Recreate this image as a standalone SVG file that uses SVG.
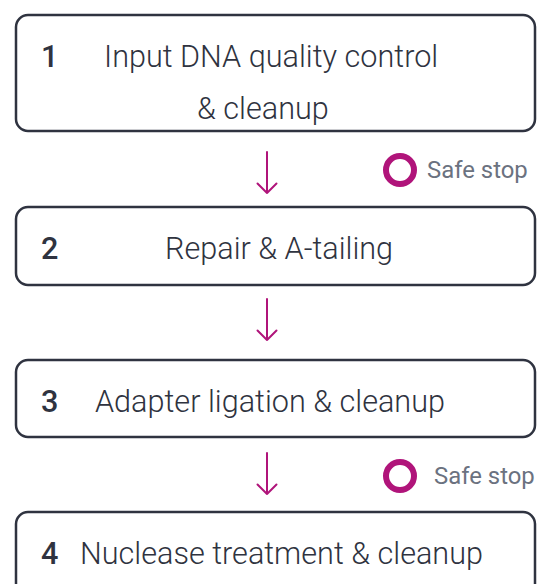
<svg xmlns="http://www.w3.org/2000/svg" width="538" height="584" viewBox="0 0 538 584">
<style>
.box{fill:#fff;stroke:#2f3340;stroke-width:2.5}
.num{font-family:Roboto,"Liberation Sans",sans-serif;font-weight:500;font-size:30.6px;fill:#2f3340}
.lbl{font-family:Roboto,"Liberation Sans",sans-serif;font-weight:300;font-size:30.6px;fill:#2f3340}
.arr{fill:none;stroke:#b0147a;stroke-width:2;stroke-linecap:round;stroke-linejoin:round}
.ss{fill:none;stroke:#b0147a;stroke-width:6}
.sst{font-family:Roboto,"Liberation Sans",sans-serif;font-weight:400;font-size:23.9px;fill:#6b7280}
</style>
<rect width="538" height="584" fill="#fff"/>
<g id="node1">
<rect class="box" x="16" y="15" width="519" height="116" rx="12"/>
<text class="num" x="41" y="67">1</text>
<text class="lbl" x="104" y="67">Input DNA quality control</text>
<text class="lbl" x="197" y="119">&amp; cleanup</text>
</g>
<g id="node2">
<rect class="box" x="16" y="207" width="519" height="78" rx="12"/>
<text class="num" x="41" y="259">2</text>
<text class="lbl" x="165" y="259">Repair &amp; A-tailing</text>
</g>
<g id="node3">
<rect class="box" x="16" y="360" width="519" height="77" rx="12"/>
<text class="num" x="41" y="412">3</text>
<text class="lbl" x="95" y="412">Adapter ligation &amp; cleanup</text>
</g>
<g id="node4">
<rect class="box" x="16" y="512" width="519" height="90" rx="12"/>
<text class="num" x="41" y="564">4</text>
<text class="lbl" x="80" y="564">Nuclease treatment &amp; cleanup</text>
</g>
<g id="connectors">
<path class="arr" d="M267 152V193M257.5 183.5L267 193L276.5 183.5"/>
<path class="arr" d="M267 299V340M257.5 330.5L267 340L276.5 330.5"/>
<path class="arr" d="M267 453V494M257.5 484.5L267 494L276.5 484.5"/>
</g>
<g id="safestop1">
<circle class="ss" cx="400" cy="170" r="14"/>
<text class="sst" x="427" y="178">Safe stop</text>
</g>
<g id="safestop2">
<circle class="ss" cx="400" cy="476" r="14"/>
<text class="sst" x="434" y="484">Safe stop</text>
</g>
</svg>
